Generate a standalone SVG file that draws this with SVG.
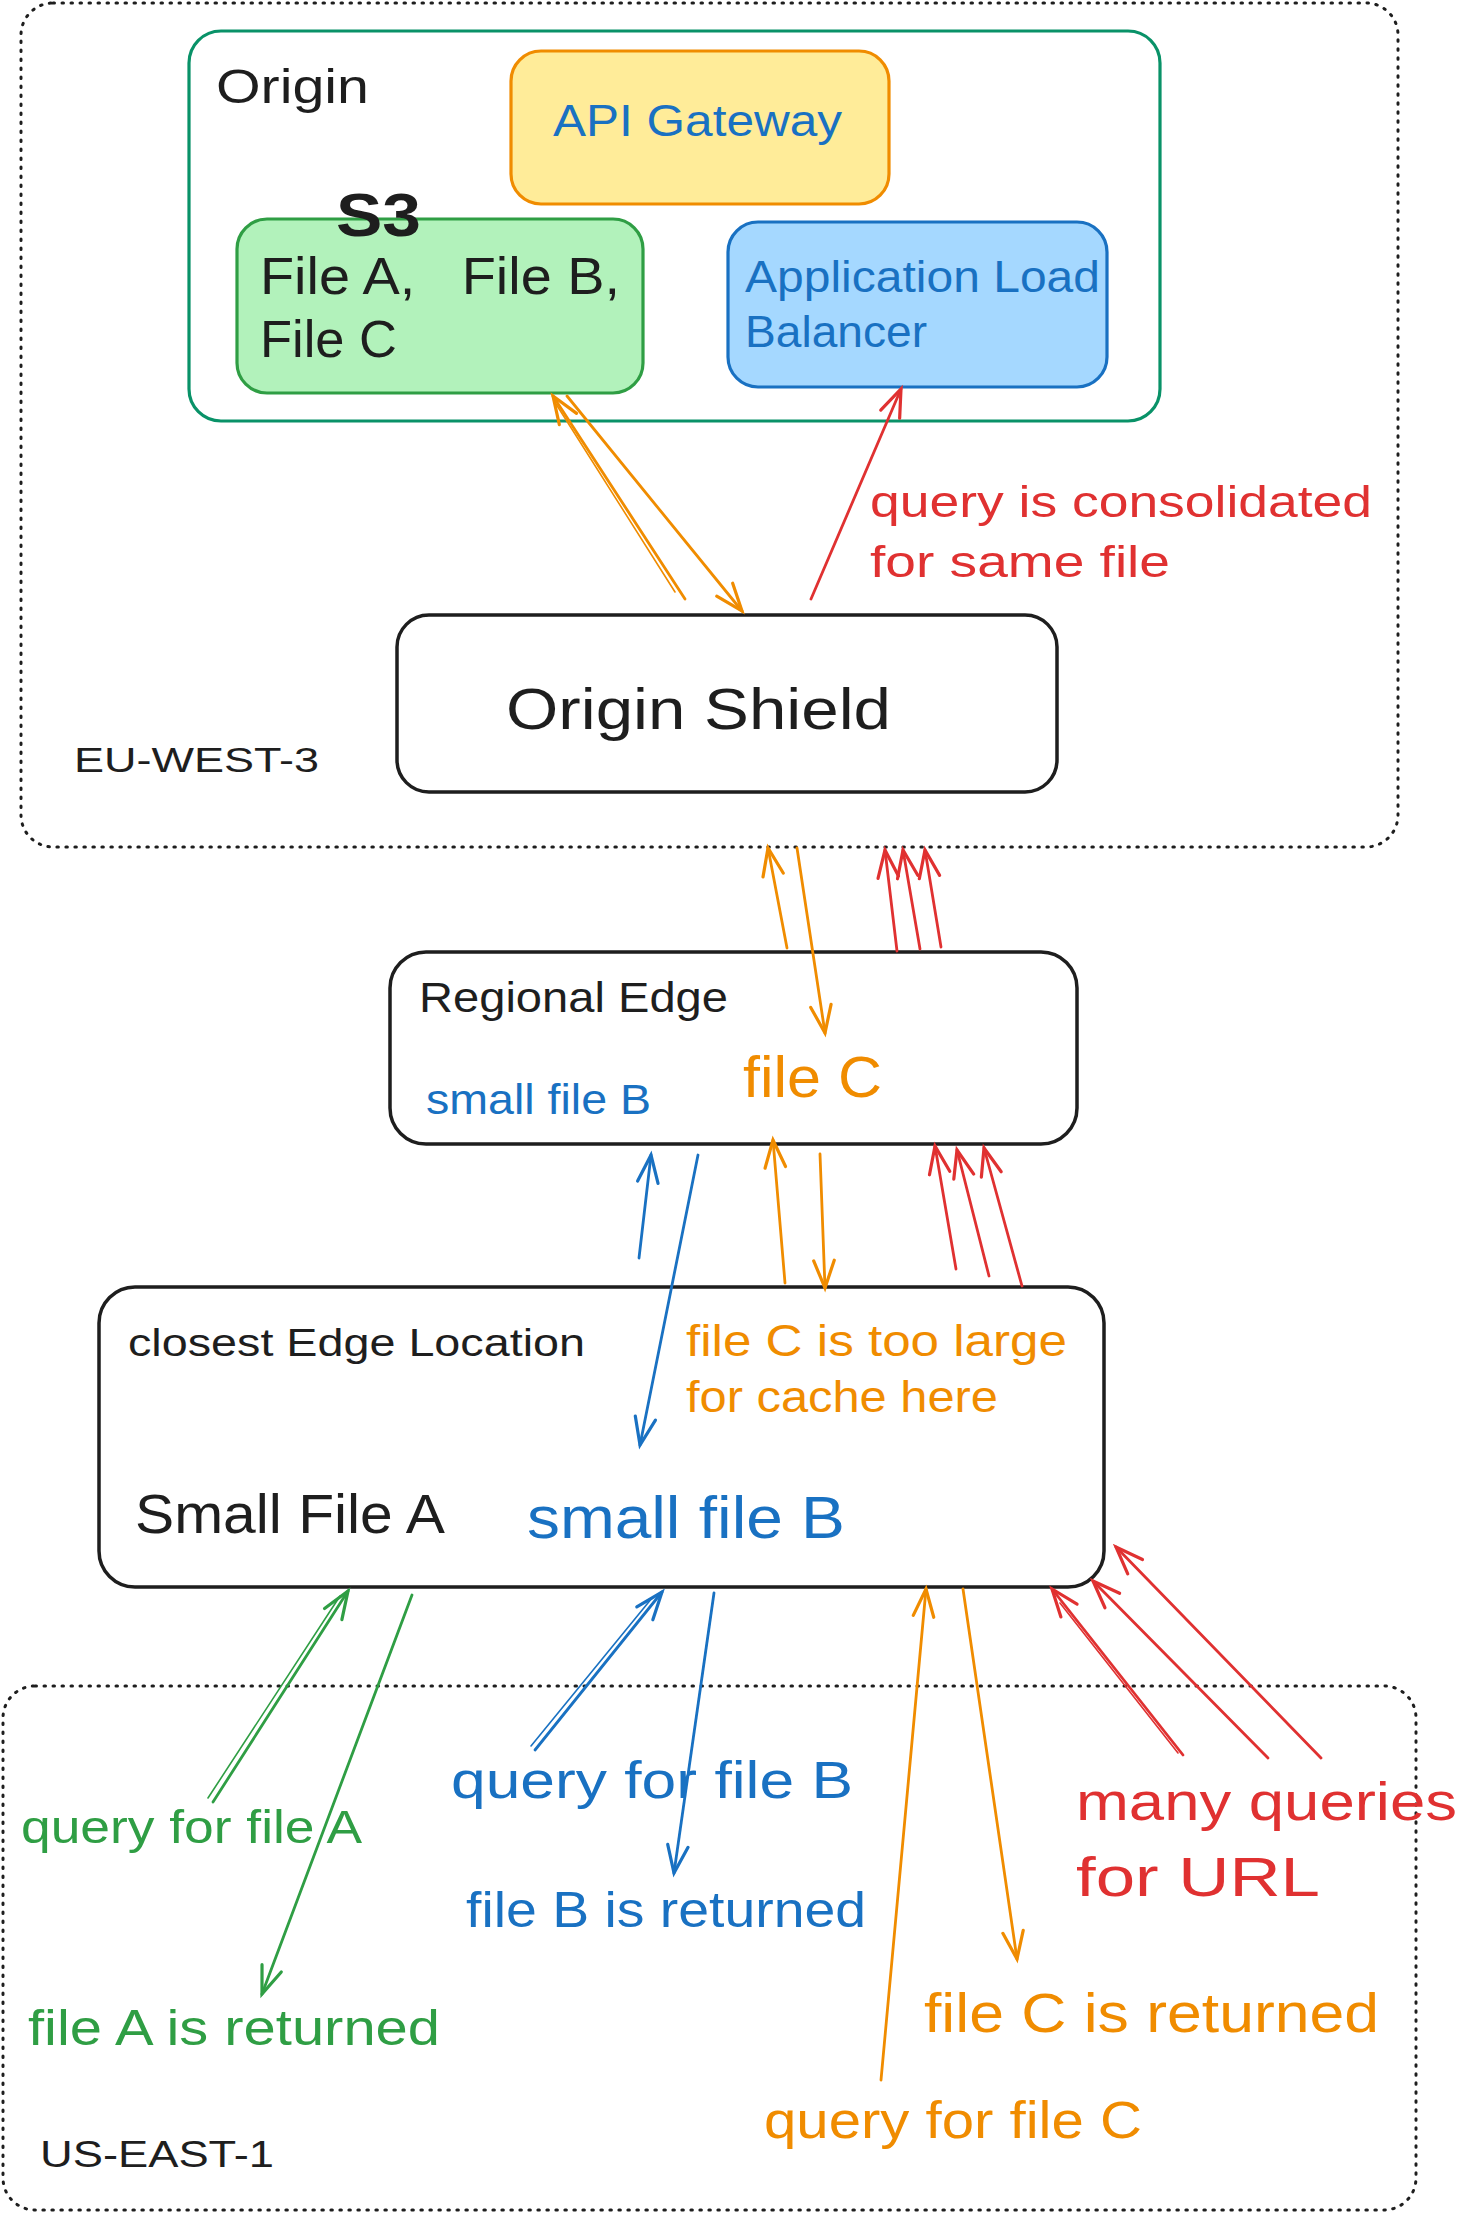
<svg xmlns="http://www.w3.org/2000/svg" width="1483" height="2214" viewBox="0 0 1483 2214">
<style>
text{font-family:"Liberation Sans",Arial,sans-serif;}
.k{fill:#1e1e1e}.o{fill:#f08c00}.r{fill:#e03131}.b{fill:#1971c2}.g{fill:#2f9e44}
.region{fill:none;stroke:#1e1e1e;stroke-width:3;stroke-dasharray:1.5 7.5;stroke-linecap:round}
.box{fill:#ffffff;stroke:#1e1e1e;stroke-width:3.5}
.ln{fill:none;stroke-width:2.8;stroke-linecap:round}
.lo{stroke:#f08c00;marker-end:url(#ao)}.lr{stroke:#e03131;marker-end:url(#ar)}
.lb{stroke:#1971c2;marker-end:url(#ab)}.lg{stroke:#2f9e44;marker-end:url(#ag)}
.sk{fill:none;stroke-width:1.6;stroke-linecap:round}
</style>
<defs>
<marker id="ao" markerUnits="userSpaceOnUse" markerWidth="40" markerHeight="40" viewBox="-30 -15 35 30" refX="0" refY="0" orient="auto"><path d="M-24 -9 L0 0 L-24 9" fill="none" stroke="#f08c00" stroke-width="2.8" stroke-linecap="round"/></marker>
<marker id="ar" markerUnits="userSpaceOnUse" markerWidth="40" markerHeight="40" viewBox="-30 -15 35 30" refX="0" refY="0" orient="auto"><path d="M-24 -9 L0 0 L-24 9" fill="none" stroke="#e03131" stroke-width="2.8" stroke-linecap="round"/></marker>
<marker id="ab" markerUnits="userSpaceOnUse" markerWidth="40" markerHeight="40" viewBox="-30 -15 35 30" refX="0" refY="0" orient="auto"><path d="M-24 -9 L0 0 L-24 9" fill="none" stroke="#1971c2" stroke-width="2.8" stroke-linecap="round"/></marker>
<marker id="ag" markerUnits="userSpaceOnUse" markerWidth="40" markerHeight="40" viewBox="-30 -15 35 30" refX="0" refY="0" orient="auto"><path d="M-24 -9 L0 0 L-24 9" fill="none" stroke="#2f9e44" stroke-width="2.8" stroke-linecap="round"/></marker>
</defs>
<rect width="1483" height="2214" fill="#ffffff"/>

<g id="eu-west-3">
<rect class="region" x="21" y="3" width="1377" height="844" rx="32"/>
<text class="k" x="74" y="772" font-size="35" textLength="245" lengthAdjust="spacingAndGlyphs">EU-WEST-3</text>
</g>
<g id="us-east-1">
<rect class="region" x="3" y="1686" width="1413" height="524" rx="32"/>
<text class="k" x="40" y="2167" font-size="36" textLength="234" lengthAdjust="spacingAndGlyphs">US-EAST-1</text>
</g>

<g id="origin">
<rect x="189" y="31" width="971" height="390" rx="32" fill="#ffffff" stroke="#099268" stroke-width="3.2"/>
<text class="k" x="216" y="103" font-size="48" textLength="153" lengthAdjust="spacingAndGlyphs">Origin</text>
</g>
<g id="api-gateway">
<rect x="511" y="51" width="378" height="153" rx="30" fill="#ffec99" stroke="#f08c00" stroke-width="3.2"/>
<text class="b" x="553" y="136" font-size="44" textLength="289" lengthAdjust="spacingAndGlyphs">API Gateway</text>
</g>
<g id="s3">
<rect x="237" y="219" width="406" height="174" rx="30" fill="#b2f2bb" stroke="#2f9e44" stroke-width="3.2"/>
<text class="k" x="336" y="236" font-size="62" font-weight="bold" textLength="85" lengthAdjust="spacingAndGlyphs">S3</text>
<text class="k" x="260" y="294" font-size="52" xml:space="preserve" textLength="360" lengthAdjust="spacingAndGlyphs">File A,   File B,</text>
<text class="k" x="260" y="357" font-size="52" textLength="137" lengthAdjust="spacingAndGlyphs">File C</text>
</g>
<g id="alb">
<rect x="728" y="222" width="379" height="165" rx="30" fill="#a5d8ff" stroke="#1971c2" stroke-width="3.2"/>
<text class="b" x="745" y="292" font-size="44" textLength="355" lengthAdjust="spacingAndGlyphs">Application Load</text>
<text class="b" x="745" y="347" font-size="44" textLength="182" lengthAdjust="spacingAndGlyphs">Balancer</text>
</g>
<g id="origin-shield">
<rect class="box" x="397" y="615" width="660" height="177" rx="32"/>
<text class="k" x="506" y="729" font-size="58" textLength="385" lengthAdjust="spacingAndGlyphs">Origin Shield</text>
</g>
<g id="regional-edge">
<rect class="box" x="390" y="952" width="687" height="192" rx="36"/>
<text class="k" x="419" y="1012" font-size="42" textLength="309" lengthAdjust="spacingAndGlyphs">Regional Edge</text>
<text class="b" x="426" y="1114" font-size="42" textLength="225" lengthAdjust="spacingAndGlyphs">small file B</text>
<text class="o" x="743" y="1097" font-size="58" textLength="139" lengthAdjust="spacingAndGlyphs">file C</text>
</g>
<g id="closest-edge">
<rect class="box" x="99" y="1287" width="1005" height="300" rx="36"/>
<text class="k" x="128" y="1356" font-size="38" textLength="457" lengthAdjust="spacingAndGlyphs">closest Edge Location</text>
<text class="o" x="686" y="1356" font-size="44" textLength="381" lengthAdjust="spacingAndGlyphs">file C is too large</text>
<text class="o" x="686" y="1412" font-size="44" textLength="312" lengthAdjust="spacingAndGlyphs">for cache here</text>
<text class="k" x="135" y="1533" font-size="56" textLength="310" lengthAdjust="spacingAndGlyphs">Small File A</text>
<text class="b" x="527" y="1538" font-size="60" textLength="318" lengthAdjust="spacingAndGlyphs">small file B</text>
</g>

<g id="connectors">
<line class="ln lo" x1="685" y1="599" x2="553" y2="396"/>
<line class="ln lo" x1="567" y1="396" x2="742" y2="611"/>
<line class="sk" stroke="#f08c00" x1="675" y1="592" x2="556" y2="404"/>
<line class="ln lo" x1="787" y1="948" x2="768" y2="848"/>
<line class="ln lo" x1="797" y1="848" x2="825" y2="1033"/>
<line class="ln lo" x1="785" y1="1283" x2="773" y2="1140"/>
<line class="ln lo" x1="820" y1="1154" x2="825" y2="1288"/>
<line class="ln lo" x1="881" y1="2080" x2="926" y2="1589"/>
<line class="ln lo" x1="963" y1="1589" x2="1017" y2="1959"/>
<line class="ln lr" x1="811" y1="599" x2="901" y2="389"/>
<line class="ln lr" x1="897" y1="951" x2="885" y2="850"/>
<line class="ln lr" x1="920" y1="949" x2="903" y2="850"/>
<line class="ln lr" x1="941" y1="947" x2="925" y2="850"/>
<line class="ln lr" x1="956" y1="1269" x2="935" y2="1146"/>
<line class="ln lr" x1="989" y1="1276" x2="957" y2="1150"/>
<line class="ln lr" x1="1022" y1="1286" x2="984" y2="1148"/>
<line class="ln lr" x1="1183" y1="1755" x2="1052" y2="1589"/>
<line class="sk" stroke="#e03131" x1="1178" y1="1753" x2="1060" y2="1603"/>
<line class="ln lr" x1="1268" y1="1758" x2="1093" y2="1581"/>
<line class="ln lr" x1="1321" y1="1758" x2="1116" y2="1547"/>
<line class="ln lb" x1="639" y1="1258" x2="651" y2="1155"/>
<line class="ln lb" x1="698" y1="1155" x2="640" y2="1445"/>
<line class="ln lb" x1="535" y1="1750" x2="662" y2="1592"/>
<line class="sk" stroke="#1971c2" x1="531" y1="1746" x2="652" y2="1598"/>
<line class="ln lb" x1="714" y1="1593" x2="674" y2="1873"/>
<line class="ln lg" x1="213" y1="1802" x2="348" y2="1591"/>
<line class="sk" stroke="#2f9e44" x1="208" y1="1798" x2="340" y2="1596"/>
<line class="ln lg" x1="412" y1="1595" x2="262" y2="1994"/>
</g>

<g id="labels">
<text class="r" x="870" y="517" font-size="44" textLength="502" lengthAdjust="spacingAndGlyphs">query is consolidated</text>
<text class="r" x="870" y="577" font-size="44" textLength="300" lengthAdjust="spacingAndGlyphs">for same file</text>
<text class="g" x="21" y="1843" font-size="46" textLength="341" lengthAdjust="spacingAndGlyphs">query for file A</text>
<text class="g" x="28" y="2045" font-size="50" textLength="412" lengthAdjust="spacingAndGlyphs">file A is returned</text>
<text class="b" x="451" y="1798" font-size="52" textLength="402" lengthAdjust="spacingAndGlyphs">query for file B</text>
<text class="b" x="466" y="1927" font-size="50" textLength="400" lengthAdjust="spacingAndGlyphs">file B is returned</text>
<text class="r" x="1076" y="1820" font-size="54" textLength="381" lengthAdjust="spacingAndGlyphs">many queries</text>
<text class="r" x="1076" y="1896" font-size="56" textLength="244" lengthAdjust="spacingAndGlyphs">for URL</text>
<text class="o" x="924" y="2032" font-size="56" textLength="455" lengthAdjust="spacingAndGlyphs">file C is returned</text>
<text class="o" x="764" y="2138" font-size="52" textLength="378" lengthAdjust="spacingAndGlyphs">query for file C</text>
</g>
</svg>
